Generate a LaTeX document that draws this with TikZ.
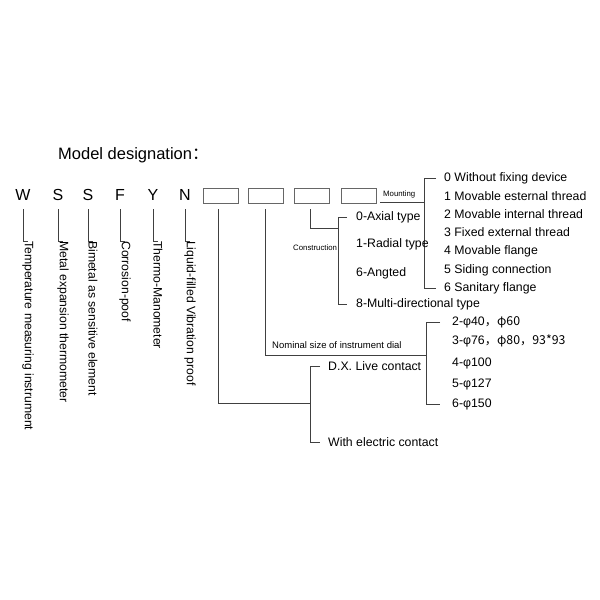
\documentclass[tikz,border=0pt]{standalone}
\usepackage{fontspec}
\setmainfont{Liberation Sans}
\newfontfamily\cjk{Noto Sans CJK SC}
\begin{document}
\begin{tikzpicture}[x=1pt,y=-1pt,
  ln/.style={draw=black!75,line width=0.6pt},
  itm/.style={anchor=west,inner sep=0pt,font=\fontsize{12.3}{13}\selectfont},
  sm/.style={anchor=west,inner sep=0pt,font=\fontsize{7.8}{8}\selectfont},
  let/.style={inner sep=0pt,font=\fontsize{16}{17}\selectfont},
  vt/.style={rotate=-90,anchor=west,inner sep=0pt,font=\fontsize{12.2}{13}\selectfont},
  bx/.style={draw=black!60,line width=0.6pt,minimum width=35pt,minimum height=15pt,inner sep=0pt}]
\useasboundingbox (0,0) rectangle (600,600);
\node[anchor=west,inner sep=0pt,font=\fontsize{16.5}{18}\selectfont] (title) at (58,155) {Model designation\cjk{：}};
% letters
\foreach \n/\l/\x/\t in {a/W/23/Temperature measuring instrument,b/S/58/Metal expansion thermometer,c/S/88/Bimetal as sensitive element,d/F/120/Corrosion-poof,e/Y/153/Thermo-Manometer,f/N/185/Liquid-filled Vibration proof}{
  \node[let] (L\n) at (\x,195) {\l};
  \coordinate (T\n) at (\x,209);
  \node[vt] (D\n) at (\x+5,241) {\t};
  \draw[ln] (T\n) -- (\x,241) -- (D\n.west);
}
% boxes
\node[bx] (b1) at (220.5,195.5) {};
\node[bx] (b2) at (266,195.5) {};
\node[bx] (b3) at (312,195.5) {};
\node[bx] (b4) at (359,195.5) {};
% mounting
\node[sm] (mnt) at (383,194) {Mounting};
\coordinate (m0) at (380,202);
\coordinate (m1) at (424,202);
\draw[ln] (m0) -- (m1);
\foreach \i/\t/\y in {0/0 Without fixing device/178,1/1 Movable esternal thread/196,2/2 Movable internal thread/214,3/3 Fixed external thread/232,4/4 Movable flange/251,5/5 Siding connection/270,6/6 Sanitary flange/288}{
  \node[itm] (M\i) at (444,\y) {\t};
}
\draw[ln] (436,178) -- (424,178) -- (424,288) -- (436,288);
% construction
\coordinate (c0) at (310,209);
\draw[ln] (c0) -- (310,228) -- (338,228);
\node[sm] (con) at (293,248) {Construction};
\foreach \i/\t/\y in {0/0-Axial type/217,1/1-Radial type/244,6/6-Angted/273,8/8-Multi-directional type/304}{
  \node[itm] (C\i) at (356,\y) {\t};
}
\draw[ln] (347,217) -- (338,217) -- (338,304) -- (347,304);
% nominal
\coordinate (n0) at (265,209);
\draw[ln] (n0) -- (265,355) -- (426,355);
\node[sm,font=\fontsize{9.5}{10}\selectfont] (nom) at (272,345) {Nominal size of instrument dial};
\node[itm] (N2) at (452,322) {2-φ40\cjk{，}φ60};
\node[itm] (N3) at (452,341) {3-φ76\cjk{，}φ80\cjk{，}93*93};
\node[itm] (N4) at (452,363) {4-φ100};
\node[itm] (N5) at (452,384) {5-φ127};
\node[itm] (N6) at (452,404) {6-φ150};
\draw[ln] (440,322) -- (426,322) -- (426,404) -- (440,404);
% DX
\coordinate (d0) at (218,209);
\draw[ln] (d0) -- (218,403) -- (310,403);
\node[itm] (X1) at (328,366) {D.X. Live contact};
\node[itm] (X2) at (328,442) {With electric contact};
\draw[ln] (320,366) -- (310,366) -- (310,442) -- (320,442);
\end{tikzpicture}
\end{document}
